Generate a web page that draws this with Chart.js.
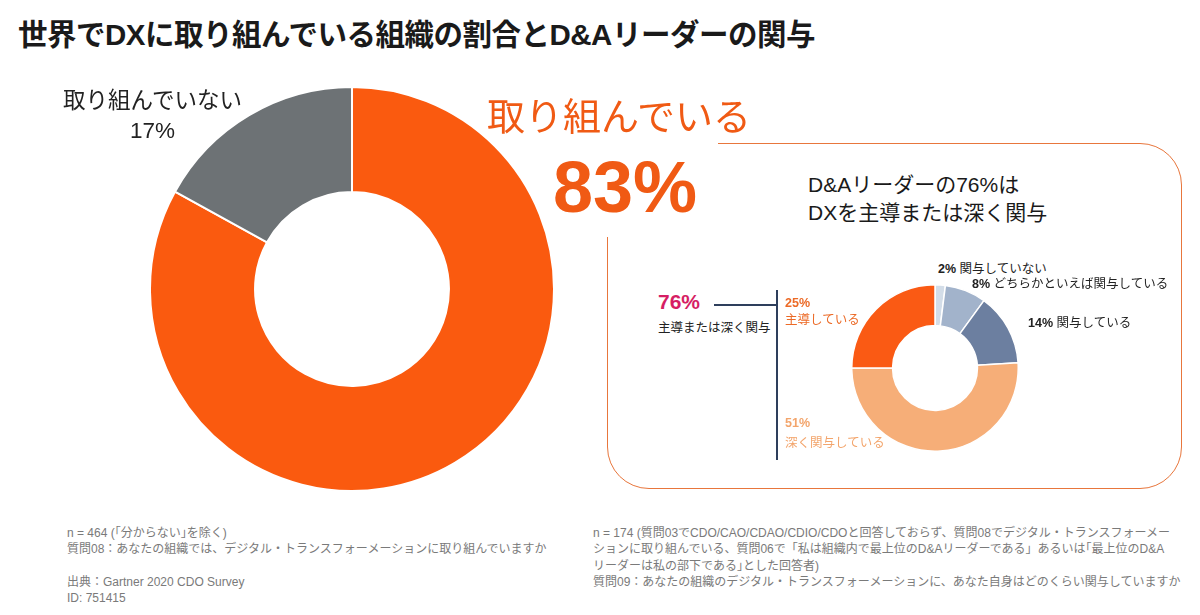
<!DOCTYPE html>
<html lang="ja">
<head>
<meta charset="utf-8">
<script src="https://cdn.jsdelivr.net/npm/chart.js@4"></script>
<style>
  html, body { margin: 0; padding: 0; background: #fff; }
  body { width: 1200px; height: 615px; position: relative; overflow: hidden;
    font-family: "Liberation Sans", "Noto Sans CJK JP", sans-serif; color: #1a1a1a; }
  .abs { position: absolute; white-space: nowrap; }
  #title { left: 18px; top: 11px; font-size: 29.5px; font-weight: bold; letter-spacing: -0.5px; }
  #box { left: 607px; top: 143px; width: 573px; height: 344px; border: 1.5px solid #E8763C; border-radius: 42px; }
  #mask { left: 598px; top: 130px; width: 120px; height: 107px; background: #fff; }
  #bigWrap { left: 149px; top: 86px; width: 406px; height: 406px; }
  #smallWrap { left: 851px; top: 284px; width: 168px; height: 168px; }
  #notLabel { left: 63px; top: 86px; font-size: 22.5px; text-align: center; line-height: 30px; color: #222; }
  #doLabel { left: 487px; top: 86px; font-size: 38px; color: #F05A14; }
  #doPct { left: 553px; top: 146px; font-size: 72px; font-weight: bold; color: #F05A14; font-family: "Liberation Sans", sans-serif; }
  #boxHead { left: 808px; top: 171px; font-size: 21px; line-height: 28px; color: #1a1a1a; }
  #leadPct { left: 658px; top: 290px; font-size: 21px; font-weight: bold; color: #D61E64; }
  #leadTxt { left: 658px; top: 317px; font-size: 12.5px; color: #222; }
  #hline { left: 714px; top: 304px; width: 63px; height: 1.5px; background: #2E3F5C; }
  #vline { left: 776px; top: 290px; width: 1.5px; height: 170px; background: #2E3F5C; }
  .seg { font-size: 12.5px; line-height: 17px; }
  .seg b { font-weight: bold; }
  #lab25 { left: 785px; top: 295px; color: #EC6A26; }
  #lab51 { left: 785px; top: 413px; color: #F3A56C; line-height: 20px; }
  #lab2 { left: 938px; top: 261px; color: #222; }
  #lab8 { left: 972px; top: 276px; color: #222; }
  #lab14 { left: 1028px; top: 315px; color: #222; }
  .note { font-size: 12px; line-height: 16.3px; color: #7a7a7a; }
  #noteL { left: 67px; top: 525px; }
  #noteR { left: 593px; top: 525px; }
</style>
</head>
<body>
<script>
// big chart: share of organisations working on DX
const bigLabels = ['取り組んでいる', '取り組んでいない']
const bigValues = [83, 17]
const bigColors = ['#FA5A0F', '#6D7275']

// small chart: D&A leader involvement (clockwise from top)
const smallLabels = ['関与していない', 'どちらかといえば関与している', '関与している', '深く関与している', '主導している']
const smallValues = [2, 8, 14, 51, 25]
const smallColors = ['#D3DDE8', '#A2B3CB', '#6C7FA0', '#F6AE78', '#FA5A14']
const leadShare = smallValues[3] + smallValues[4]
</script>

<div class="abs" id="title">世界でDXに取り組んでいる組織の割合とD&amp;Aリーダーの関与</div>

<div class="abs" id="box"></div>
<div class="abs" id="mask"></div>

<div class="abs" id="bigWrap"><canvas id="bigChart"></canvas></div>
<div class="abs" id="smallWrap"><canvas id="smallChart"></canvas></div>

<div class="abs" id="notLabel"></div>
<div class="abs" id="doLabel"></div>
<div class="abs" id="doPct"></div>

<div class="abs" id="boxHead"></div>
<div class="abs" id="leadPct"></div>
<div class="abs" id="leadTxt">主導または深く関与</div>
<div class="abs" id="hline"></div>
<div class="abs" id="vline"></div>

<div class="abs seg" id="lab25"></div>
<div class="abs seg" id="lab51"></div>
<div class="abs seg" id="lab2"></div>
<div class="abs seg" id="lab8"></div>
<div class="abs seg" id="lab14"></div>

<div class="abs note" id="noteL">n = 464 (｢分からない｣を除く)<br>質問08：あなたの組織では、デジタル・トランスフォーメーションに取り組んでいますか<br><br>出典：Gartner 2020 CDO Survey<br>ID: 751415</div>
<div class="abs note" id="noteR">n = 174 (質問03でCDO/CAO/CDAO/CDIO/CDOと回答しておらず、質問08でデジタル・トランスフォーメー<br>ションに取り組んでいる、質問06で「私は組織内で最上位のD&amp;Aリーダーである」あるいは｢最上位のD&amp;A<br>リーダーは私の部下である｣とした回答者)<br>質問09：あなたの組織のデジタル・トランスフォーメーションに、あなた自身はどのくらい関与していますか</div>

<script>
document.getElementById('notLabel').innerHTML = bigLabels[1] + '<br>' + bigValues[1] + '%'
document.getElementById('doLabel').textContent = bigLabels[0]
document.getElementById('doPct').textContent = bigValues[0] + '%'
document.getElementById('boxHead').innerHTML = 'D&amp;Aリーダーの' + leadShare + '%は<br>DXを主導または深く関与'
document.getElementById('leadPct').textContent = leadShare + '%'
document.getElementById('lab25').innerHTML = '<b>' + smallValues[4] + '%</b><br>' + smallLabels[4]
document.getElementById('lab51').innerHTML = '<b>' + smallValues[3] + '%</b><br>' + smallLabels[3]
document.getElementById('lab2').innerHTML = '<b>' + smallValues[0] + '%</b> ' + smallLabels[0]
document.getElementById('lab8').innerHTML = '<b>' + smallValues[1] + '%</b> ' + smallLabels[1]
document.getElementById('lab14').innerHTML = '<b>' + smallValues[2] + '%</b> ' + smallLabels[2]

const baseOptions = {
  responsive: true,
  maintainAspectRatio: false,
  animation: false,
  layout: { padding: 0 },
  plugins: { legend: { display: false }, tooltip: { enabled: false } }
}

new Chart(document.getElementById('bigChart'), {
  type: 'doughnut',
  data: {
    labels: bigLabels,
    datasets: [{ data: bigValues, backgroundColor: bigColors, borderColor: '#fff', borderWidth: 2 }]
  },
  options: { ...baseOptions, cutout: '48%' }
})

new Chart(document.getElementById('smallChart'), {
  type: 'doughnut',
  data: {
    labels: smallLabels,
    datasets: [{ data: smallValues, backgroundColor: smallColors, borderColor: '#fff', borderWidth: 1.5 }]
  },
  options: { ...baseOptions, cutout: '51%' }
})
</script>
</body>
</html>
